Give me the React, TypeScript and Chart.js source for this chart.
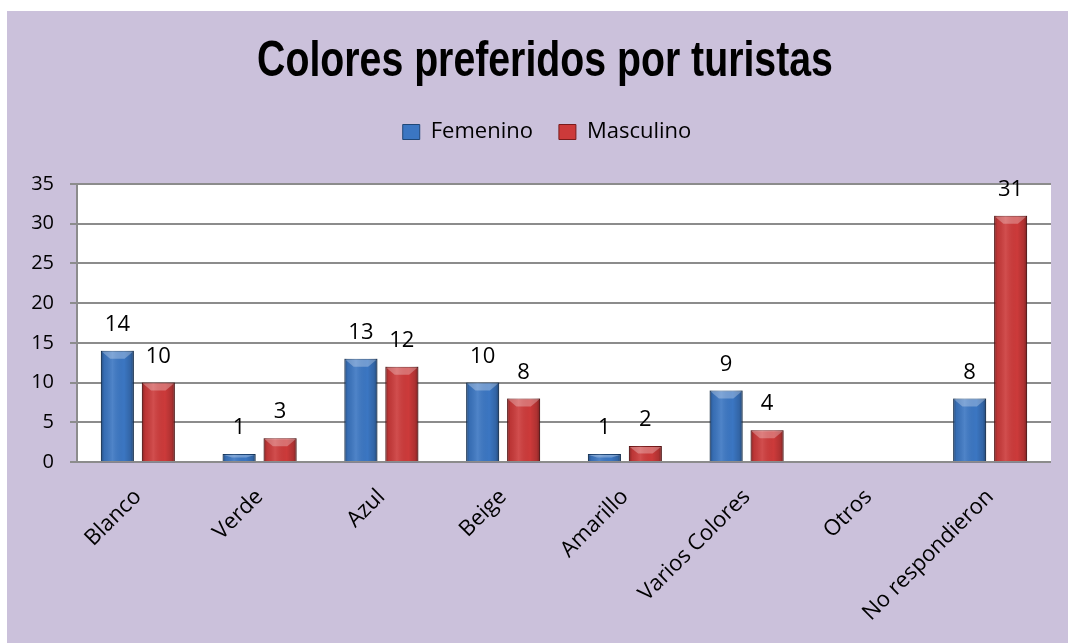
import React, { useEffect, useRef } from "react";
import { Chart, registerables } from "chart.js";

Chart.register(...registerables);

const categories = ["Blanco", "Verde", "Azul", "Beige", "Amarillo", "Varios Colores", "Otros", "No respondieron"];
const femenino = [14, 1, 13, 10, 1, 9, null, 8];
const masculino = [10, 3, 12, 8, 2, 4, null, 31];
const seriesNames = ["Femenino", "Masculino"];
const titleText = "Colores preferidos por turistas";
const yMax = 35;
const yStep = 5;

const W = 1080;
const H = 632;
const FONT = "'Open Sans', 'DejaVu Sans', sans-serif";

const plotBg = {
  id: "plotBg",
  beforeDraw(chart: any) {
    const { ctx, chartArea } = chart;
    ctx.save();
    ctx.fillStyle = "#ffffff";
    ctx.fillRect(chartArea.left, chartArea.top, chartArea.right - chartArea.left, chartArea.bottom - chartArea.top);
    ctx.restore();
  },
};

// Condensed bold title (Arial Narrow look) drawn as real text
const narrowTitle = {
  id: "narrowTitle",
  afterDraw(chart: any) {
    const ctx = chart.ctx;
    ctx.save();
    ctx.font = "bold 50px 'Liberation Sans', Arial, sans-serif";
    ctx.fillStyle = "#000";
    ctx.textAlign = "center";
    ctx.textBaseline = "alphabetic";
    const sx = 0.785;
    ctx.translate(538, 65);
    ctx.scale(sx, 1);
    ctx.fillText(titleText, 0, 0);
    ctx.restore();
  },
};

const barShade = {
  id: "barShade",
  afterDatasetsDraw(chart: any) {
    const ctx = chart.ctx;
    ctx.save();
    chart.data.datasets.forEach((ds: any, di: number) => {
      const meta = chart.getDatasetMeta(di);
      meta.data.forEach((bar: any, i: number) => {
        const v = ds.data[i];
        if (v == null) return;
        const { x, y, base, width } = bar.getProps(["x", "y", "base", "width"], true);
        const l = x - width / 2;
        const r = x + width / 2;
        const h = base - y;
        const g = ctx.createLinearGradient(l, 0, r, 0);
        g.addColorStop(0, "rgba(0,0,0,0.35)");
        g.addColorStop(0.1, "rgba(0,0,0,0.08)");
        g.addColorStop(0.35, "rgba(255,255,255,0.10)");
        g.addColorStop(0.7, "rgba(0,0,0,0)");
        g.addColorStop(0.9, "rgba(0,0,0,0.15)");
        g.addColorStop(1, "rgba(0,0,0,0.4)");
        ctx.fillStyle = g;
        ctx.fillRect(l, y, width, h);
        const bh = Math.min(8, h / 2);
        ctx.beginPath();
        ctx.moveTo(l + 1, y + 1);
        ctx.lineTo(r - 1, y + 1);
        ctx.lineTo(r - width * 0.28, y + bh);
        ctx.lineTo(l + width * 0.28, y + bh);
        ctx.closePath();
        ctx.fillStyle = "rgba(255,255,255,0.28)";
        ctx.fill();
        ctx.fillStyle = "rgba(120,120,150,0.45)";
        ctx.fillRect(l, base + 1, width, 1);
        ctx.fillStyle = "#000";
        ctx.font = `22px ${FONT}`;
        ctx.textAlign = "center";
        ctx.textBaseline = "middle";
        ctx.fillText(String(v), x, y - 26);
      });
    });
    ctx.restore();
  },
};

export default function App() {
  const ref = useRef<HTMLCanvasElement>(null);
  useEffect(() => {
    const chart = new Chart(ref.current!, {
      type: "bar",
      data: {
        labels: categories,
        datasets: [
          {
            label: seriesNames[0],
            data: femenino,
            backgroundColor: "#3b76c2",
            borderColor: "#1f4777",
            borderWidth: 1,
            categoryPercentage: 0.673,
            barPercentage: 0.805,
          },
          {
            label: seriesNames[1],
            data: masculino,
            backgroundColor: "#cc3a3a",
            borderColor: "#7a1b1b",
            borderWidth: 1,
            categoryPercentage: 0.673,
            barPercentage: 0.805,
          },
        ],
      },
      options: {
        responsive: false,
        animation: false,
        layout: { padding: { left: 0, right: 0, top: 84, bottom: 0 } },
        plugins: {
          title: { display: false },
          subtitle: {
            display: true,
            text: " ",
            weight: 500,
            font: { size: 10, lineHeight: 1 },
            padding: { top: 0, bottom: 21 },
          },
          legend: {
            display: true,
            position: "top",
            weight: 1000,
            labels: {
              color: "#000",
              font: { family: FONT, size: 22 },
              boxWidth: 17,
              boxHeight: 15,
              padding: 26,
            },
          },
          tooltip: { enabled: false },
        },
        scales: {
          x: {
            grid: { display: false },
            border: { display: false },
            ticks: {
              color: "#000",
              font: { family: FONT, size: 22 },
              maxRotation: 45,
              minRotation: 45,
              padding: 14,
            },
            afterFit: (s: any) => {
              s.height = 181;
            },
          },
          y: {
            min: 0,
            max: yMax,
            ticks: {
              stepSize: yStep,
              color: "#000",
              font: { family: FONT, size: 20 },
              padding: 16,
            },
            grid: {
              color: "#8c8c8c",
              lineWidth: 2,
              tickLength: 7,
              drawTicks: true,
            },
            border: { display: true, color: "#8c8c8c", width: 2 },
            afterFit: (s: any) => {
              s.width = 70;
            },
          },
          yRight: {
            position: "right",
            display: true,
            grid: { display: false, drawTicks: false },
            border: { display: false },
            ticks: { display: false },
            afterFit: (s: any) => {
              s.width = 36;
            },
          },
        },
      },
      plugins: [plotBg, barShade, narrowTitle],
    });
    return () => chart.destroy();
  }, []);

  return (
    <div style={{ position: "fixed", left: 0, top: 0, width: 1068, height: 643, overflow: "hidden", background: "#ffffff" }}>
      <div style={{ position: "absolute", left: 7, top: 11, width: W, height: H, background: "#cbc1db" }}>
        <canvas ref={ref} width={W} height={H} style={{ display: "block" }} />
      </div>
    </div>
  );
}
